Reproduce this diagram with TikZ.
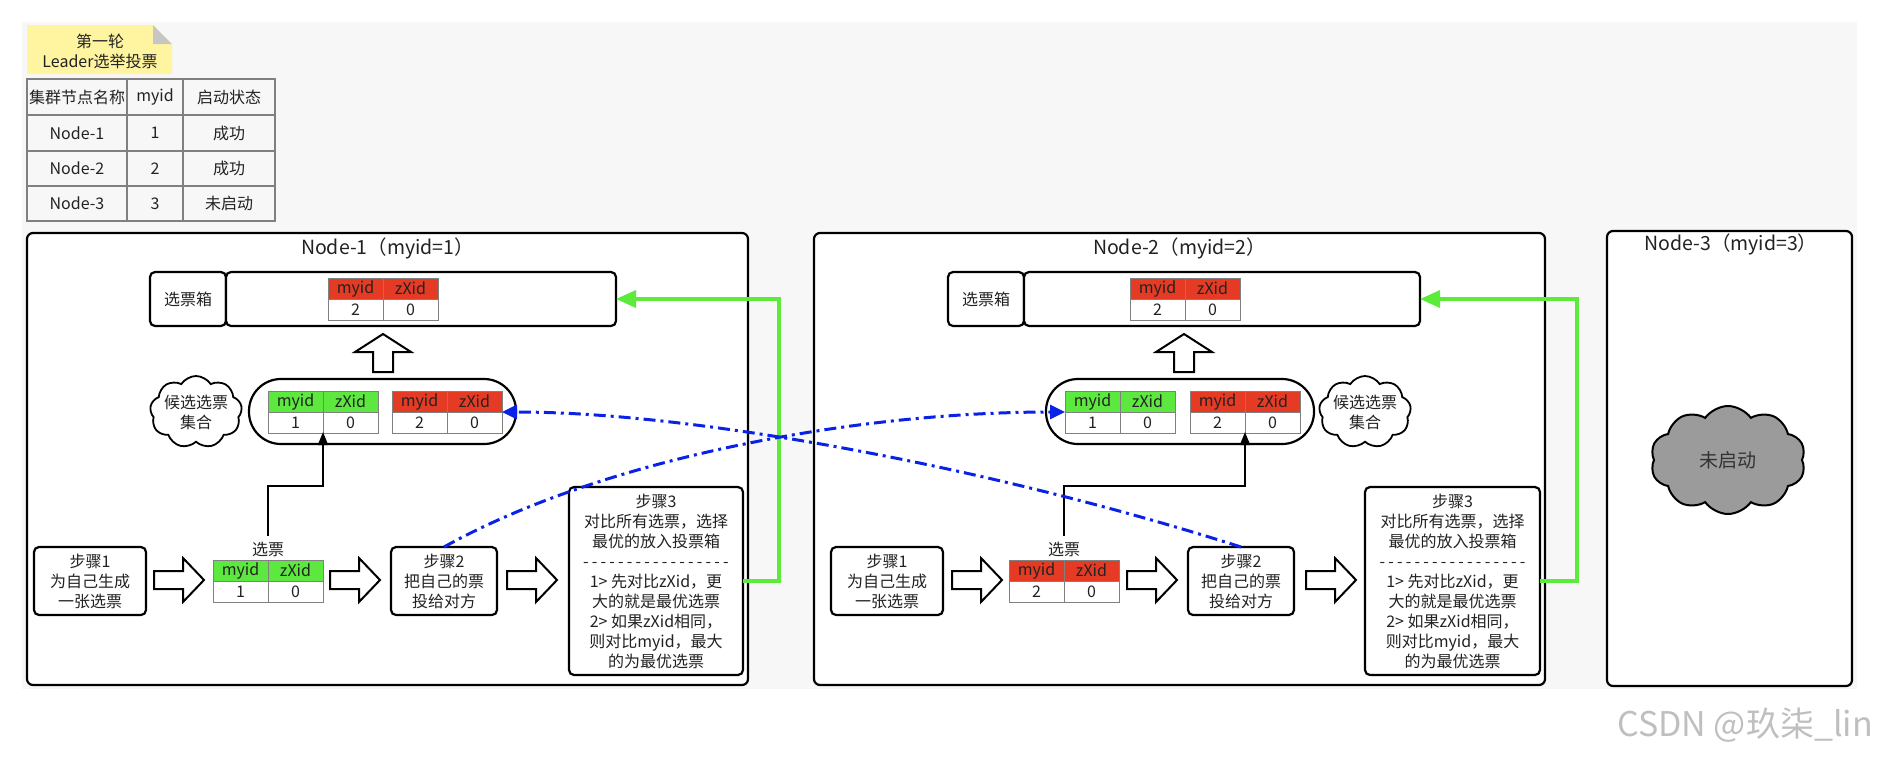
\documentclass[tikz,border=0pt]{standalone}
\usepackage{fontspec}
\setmainfont{Noto Sans CJK SC}
\usetikzlibrary{shapes.symbols,arrows.meta,calc}
\definecolor{bgc}{HTML}{F7F7F7}
\definecolor{tgreen}{HTML}{5CE83E}
\definecolor{tred}{HTML}{E53B25}
\definecolor{lgreen}{HTML}{5CEB3A}
\definecolor{lblue}{HTML}{0A22E6}
\definecolor{tgray}{HTML}{808080}
\definecolor{notec}{HTML}{FFF5A0}
\definecolor{cloudg}{HTML}{9B9B9B}
\definecolor{txt}{HTML}{222222}
\newcommand\myfs[2]{\fontsize{#1pt}{#2pt}\selectfont}
\newcommand\dsh{-\kern3.2pt}
\begin{document}
\begin{tikzpicture}[x=1pt,y=-1pt,
  every node/.style={inner sep=0pt,outer sep=0pt,text=txt},
  tcell/.style={draw=tgray,line width=1.3pt,anchor=north west,font=\myfs{16}{20}},
  hcell/.style={draw=tgray,line width=1pt,anchor=north west,minimum width=55pt,minimum height=21pt,font=\myfs{16}{20}},
  vcell/.style={draw=tgray,line width=1pt,anchor=north west,minimum width=55pt,minimum height=21pt,fill=white,font=\myfs{16}{20}},
  nodebox/.style={draw=black,line width=2.2pt,rounded corners=6pt,fill=white},
  box/.style={draw=black,line width=2.2pt,rounded corners=5pt,fill=white,align=center,font=\myfs{16}{20}},
  stad/.style={draw=black,line width=2.2pt,rounded corners=32pt,fill=white},
  cand/.style={cloud,cloud puffs=9,cloud puff arc=115,draw=black,line width=1.8pt,fill=white},
  title/.style={font=\myfs{19.5}{22}},
  hollow/.style={draw=black,line width=2pt,fill=white,line join=miter},
  greenline/.style={draw=lgreen,line width=3.5pt,-{Triangle[length=20pt,width=17pt]}},
  blueline/.style={draw=lblue,line width=3pt,dash pattern=on 12pt off 5pt on 3pt off 5pt,-{Triangle[length=15pt,width=14pt]}},
  blkline/.style={draw=black,line width=2pt,-{Triangle[length=13pt,width=10pt]}},
  lbl/.style={font=\myfs{16}{20},inner sep=6pt}
]
\useasboundingbox (0,0) rectangle (1881,756);
\fill[bgc] (22,22) rectangle (1857,689);

% ---------- sticky note ----------
\fill[notec] (27,25) -- (153,25) -- (172,44) -- (172,74) -- (27,74) -- cycle;
\fill[gray!45] (153,25) -- (172,44) -- (153,44) -- cycle;
\node[font=\myfs{16}{20},align=center] (note) at (100,51) {第一轮\\Leader选举投票};

% ---------- status table ----------
\newcommand\tcell[6]{\node[tcell,minimum width=#4pt,minimum height=#5pt] (#1) at (#2,#3) {#6};}
\tcell{t11}{27}{79}{100}{36}{集群节点名称}
\tcell{t12}{127}{79}{56}{36}{myid}
\tcell{t13}{183}{79}{92}{36}{启动状态}
\tcell{t21}{27}{115}{100}{36}{Node-1}
\tcell{t22}{127}{115}{56}{36}{1}
\tcell{t23}{183}{115}{92}{36}{成功}
\tcell{t31}{27}{151}{100}{35}{Node-2}
\tcell{t32}{127}{151}{56}{35}{2}
\tcell{t33}{183}{151}{92}{35}{成功}
\tcell{t41}{27}{186}{100}{35}{Node-3}
\tcell{t42}{127}{186}{56}{35}{3}
\tcell{t43}{183}{186}{92}{35}{未启动}

% ---------- vote table macro ----------
\newcommand\vtab[6]{%
  \node[hcell,fill=#4] (#1h1) at (#2,#3) {myid};
  \node[hcell,fill=#4] (#1h2) at (#2+55,#3) {zXid};
  \node[vcell] (#1v1) at (#2,#3+21) {#5};
  \node[vcell] (#1v2) at (#2+55,#3+21) {#6};}
\newcommand\rarrow[1]{\draw[hollow] (#1,571) -- (#1+29,571) -- (#1+29,558) -- (#1+50,580) -- (#1+29,602) -- (#1+29,589) -- (#1,589) -- cycle;}
\newcommand\uarrow[1]{\draw[hollow] (#1-10,372) -- (#1-10,352) -- (#1-28,352) -- (#1,334) -- (#1+28,352) -- (#1+10,352) -- (#1+10,372) -- cycle;}

% ---------- node boxes ----------
\node[nodebox,minimum width=721pt,minimum height=452pt] (n1) at (387.5,459) {};
\node[nodebox,minimum width=731pt,minimum height=452pt] (n2) at (1179.5,459) {};
\node[nodebox,minimum width=245pt,minimum height=455pt] (n3) at (1729.5,458.5) {};
\node[title] (n1t) at (387.5,248) {Node-1（myid=1）};
\node[title] (n2t) at (1179.5,248) {Node-2（myid=2）};
\node[title] (n3t) at (1731,244) {Node-3（myid=3）};

% ================= Node-1 =================
\node[box,minimum width=76pt,minimum height=54pt] (xa) at (188,299) {选票箱};
\node[box,minimum width=390pt,minimum height=54pt] (ba) at (421,299) {};
\vtab{bta}{328}{278}{tred}{2}{0}
\uarrow{383}
\node[stad,minimum width=267pt,minimum height=65pt] (sa) at (382.5,411.5) {};
\vtab{cga}{268}{391}{tgreen}{1}{0}
\vtab{cra}{392}{391}{tred}{2}{0}
\node[cand,minimum width=92pt,minimum height=72pt] (cla) at (196,412) {};
\node[align=center,font=\myfs{16}{20}] (clta) at (196,412) {候选选票\\集合};

\node[box,minimum width=112pt,minimum height=68pt] (s1a) at (90,581) {步骤1\\为自己生成\\一张选票};
\rarrow{154}
\node[lbl] (vla) at (268,549) {选票};
\vtab{vta}{213}{560}{tgreen}{1}{0}
\rarrow{330}
\node[box,minimum width=106pt,minimum height=68pt] (s2a) at (444,581) {步骤2\\把自己的票\\投给对方};
\rarrow{507}
\node[box,minimum width=174pt,minimum height=188pt] (s3a) at (656,581) {步骤3\\对比所有选票，选择\\最优的放入投票箱\\\dsh\dsh\dsh\dsh\dsh\dsh\dsh\dsh\dsh\dsh\dsh\dsh\dsh\dsh\dsh\dsh-\\1> 先对比zXid，更\\大的就是最优选票\\2> 如果zXid相同，\\则对比myid，最大\\的为最优选票};

% ================= Node-2 =================
\node[box,minimum width=76pt,minimum height=54pt] (xb) at (986,299) {选票箱};
\node[box,minimum width=396pt,minimum height=54pt] (bb) at (1222,299) {};
\vtab{btb}{1130}{278}{tred}{2}{0}
\uarrow{1184}
\node[stad,minimum width=268pt,minimum height=65pt] (sb) at (1180,411.5) {};
\vtab{cgb}{1065}{391}{tgreen}{1}{0}
\vtab{crb}{1190}{391}{tred}{2}{0}
\node[cand,minimum width=92pt,minimum height=72pt] (clb) at (1365,412) {};
\node[align=center,font=\myfs{16}{20}] (cltb) at (1365,412) {候选选票\\集合};

\node[box,minimum width=112pt,minimum height=68pt] (s1b) at (887,581) {步骤1\\为自己生成\\一张选票};
\rarrow{952}
\node[lbl] (vlb) at (1064,549) {选票};
\vtab{vtb}{1009}{560}{tred}{2}{0}
\rarrow{1127}
\node[box,minimum width=106pt,minimum height=68pt] (s2b) at (1241,581) {步骤2\\把自己的票\\投给对方};
\rarrow{1306}
\node[box,minimum width=175pt,minimum height=188pt] (s3b) at (1452.5,581) {步骤3\\对比所有选票，选择\\最优的放入投票箱\\\dsh\dsh\dsh\dsh\dsh\dsh\dsh\dsh\dsh\dsh\dsh\dsh\dsh\dsh\dsh\dsh-\\1> 先对比zXid，更\\大的就是最优选票\\2> 如果zXid相同，\\则对比myid，最大\\的为最优选票};

% ================= Node-3 =================
\node[cloud,cloud puffs=10,cloud puff arc=110,draw=black,line width=2pt,fill=cloudg,minimum width=155pt,minimum height=108pt] (c3) at (1728,460) {};
\node[font=\myfs{19}{22},text=black!80] (c3t) at (1728,460) {未启动};

% ---------- connectors ----------
\coordinate (ma) at (323,432);
\coordinate (mb) at (1245,432);
\draw[blkline] (vla.north) -- ++(0,-50) -| (ma);
\draw[blkline] (vlb.north) -- ++(0,-50) -| (mb);

\draw[greenline] (s3a.east) -- ++(36,0) |- (ba.east);
\draw[greenline] (s3b.east) -- ++(37,0) |- (bb.east);

\coordinate (ta) at (1065,412);
\coordinate (tb) at (502,412);
\draw[blueline] (s2a.north) .. controls (600,460) and (850,412) .. (ta);
\draw[blueline] (s2b.north) .. controls (1000,470) and (700,412) .. (tb);

% ---------- watermark ----------
\node[font=\myfs{34}{38},text=black!25] (wm) at (1745,725) {CSDN @玖柒\_lin};
\end{tikzpicture}
\end{document}
